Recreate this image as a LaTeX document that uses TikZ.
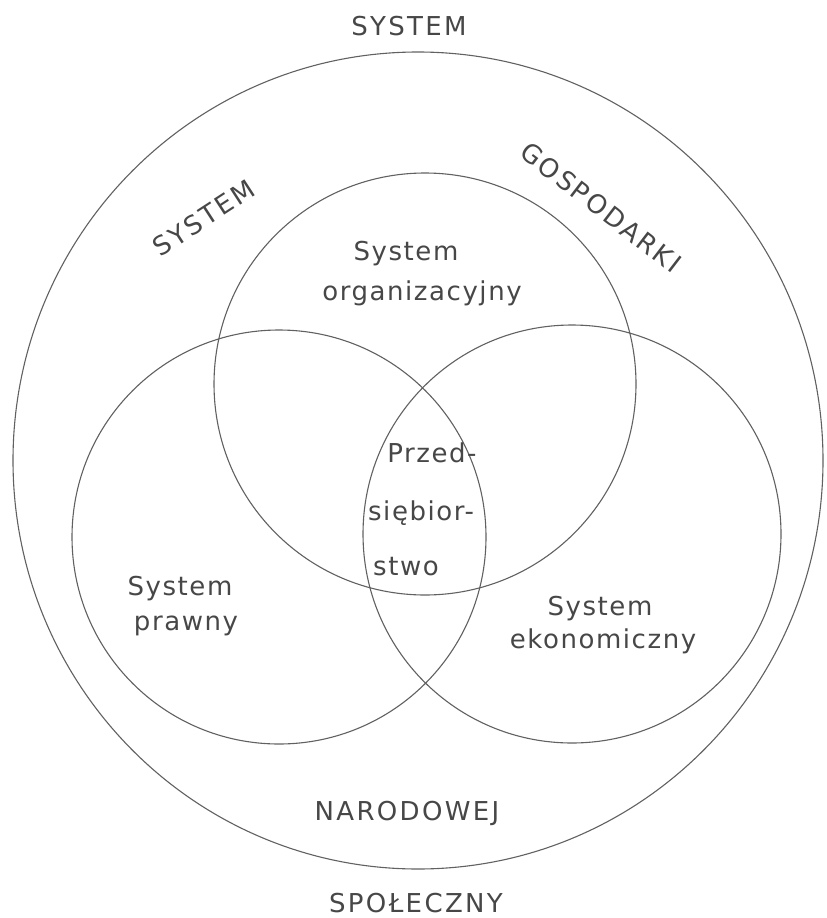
\documentclass[tikz,border=0pt]{standalone}
\usepackage{fontspec}
\setmainfont{DejaVu Sans}
\newfontfamily\capsfont[LetterSpace=9]{DejaVu Sans}
\newfontfamily\lowfont[LetterSpace=6]{DejaVu Sans}
\begin{document}
\begin{tikzpicture}[x=1pt,y=-1pt]
\tikzset{
  ring/.style={draw=black!62, line width=1.1pt},
  capstext/.style={text=black!72, font=\capsfont\fontsize{26}{30}\selectfont, inner sep=0pt},
  lowtext/.style={text=black!72, font=\lowfont\fontsize{26}{30}\selectfont, inner sep=0pt, anchor=base},
}
\useasboundingbox[fill=white] (0,0) rectangle (827,918);

% circles
\draw[ring] (418,460.5) ellipse[x radius=405, y radius=408.5];
\draw[ring] (425,384) circle[radius=211];
\draw[ring] (279,537) circle[radius=207];
\draw[ring] (572,534) circle[radius=209];

% outer labels
\node[capstext, anchor=base] (systop) at (409,35) {SYSTEM};
\node[capstext, rotate=33] (sysleft) at (204,218) {SYSTEM};
\node[capstext, rotate=-37.5] (gosp) at (601,207.5) {GOSPODARKI};
\node[capstext, anchor=base] (nar) at (407,820) {NARODOWEJ};
\node[capstext, anchor=base] (spol) at (416,912) {SPOŁECZNY};

% inner labels
\node[lowtext] (org1) at (406,260) {System};
\node[lowtext] (org2) at (422,300) {organizacyjny};
\node[lowtext] (praw1) at (180,595) {System};
\node[lowtext] (praw2) at (186,630) {prawny};
\node[lowtext] (eko1) at (600,615) {System};
\node[lowtext] (eko2) at (603,648) {ekonomiczny};
\node[lowtext] (prz1) at (432,462) {Przed-};
\node[lowtext] (prz2) at (421,520) {siębior-};
\node[lowtext] (prz3) at (406,575) {stwo};
\end{tikzpicture}
\end{document}
